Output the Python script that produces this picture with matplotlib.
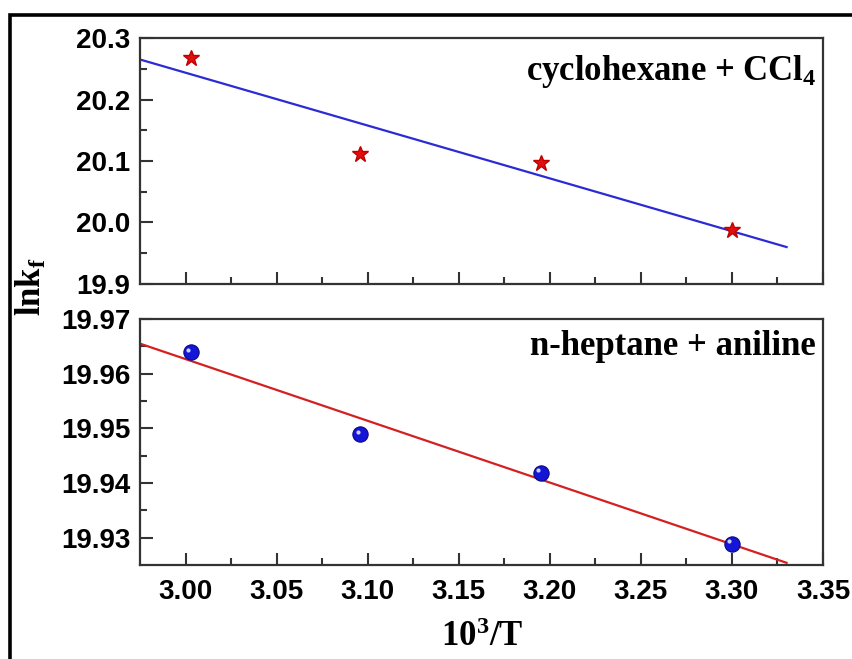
import numpy as np
import matplotlib
matplotlib.use("Agg")
import matplotlib.pyplot as plt
import matplotlib.transforms as mtransforms
from matplotlib.patches import Rectangle

# inverse temperature, 10^3/T
inv_T = [3.003, 3.096, 3.195, 3.300]

# ln k_f for the two systems
lnk_ccl4 = [20.268, 20.111, 20.097, 19.988]
lnk_aniline = [19.9639, 19.9489, 19.9419, 19.9289]

fit_range = [2.975, 3.330]

label_top = r"cyclohexane + CCl$_{4}$"
label_bot = "n-heptane + aniline"

plt.rcParams["mathtext.fontset"] = "custom"
plt.rcParams["mathtext.rm"] = "Liberation Serif:bold"
plt.rcParams["mathtext.bf"] = "Liberation Serif:bold"
plt.rcParams["mathtext.it"] = "Liberation Serif:bold:italic"

tick_font = {"family": "Liberation Sans", "weight": "bold", "size": 20}
text_font = {"family": "Liberation Serif", "weight": "bold", "size": 25}

fig = plt.figure(figsize=(8.52, 6.59), dpi=100)

# outer black frame (cropped on right and bottom)
fig.patches.append(Rectangle((10 / 852, -0.05), 1.0, 1 - 15 / 659 + 0.05,
                             transform=fig.transFigure, fill=False,
                             edgecolor="black", linewidth=2.6))

ax1 = fig.add_axes([140 / 852, 1 - 284 / 659, 683 / 852, 246 / 659])
ax2 = fig.add_axes([140 / 852, 1 - 565 / 659, 683 / 852, 246 / 659])

xfit = np.linspace(fit_range[0], fit_range[1], 50)

# top panel
p1 = np.polyfit(inv_T, lnk_ccl4, 1)
ax1.plot(xfit, np.polyval(p1, xfit), color="#2b2bd6", lw=1.6, zorder=2)
ax1.plot(inv_T, lnk_ccl4, linestyle="none", marker="*", markersize=12,
         color="#e01010", markeredgecolor="#c00000", zorder=3)
ax1.set_ylim(19.9, 20.3)
ax1.set_yticks([19.9, 20.0, 20.1, 20.2, 20.3])
ax1.set_yticklabels(["19.9", "20.0", "20.1", "20.2", "20.3"])
ax1.set_yticks(np.arange(19.95, 20.3, 0.1), minor=True)
ax1.text(0.99, 0.94, label_top, transform=ax1.transAxes, ha="right",
         va="top", fontdict=text_font)

# bottom panel
p2 = np.polyfit(inv_T, lnk_aniline, 1)
ax2.plot(xfit, np.polyval(p2, xfit), color="#d42020", lw=1.6, zorder=2)
ax2.plot(inv_T, lnk_aniline, linestyle="none", marker="o", markersize=11,
         color="#1515d8", markeredgecolor="#0a0a80", markeredgewidth=0.8,
         zorder=3)
hl = mtransforms.offset_copy(ax2.transData, fig=fig, x=-2.0, y=2.0, units="points")
ax2.plot(inv_T, lnk_aniline, linestyle="none", marker="o", markersize=3,
         color="#c8d0ff", markeredgewidth=0, transform=hl, zorder=4)
ax2.set_ylim(19.925, 19.97)
ax2.set_yticks([19.93, 19.94, 19.95, 19.96, 19.97])
ax2.set_yticklabels(["19.93", "19.94", "19.95", "19.96", "19.97"])
ax2.set_yticks(np.arange(19.935, 19.97, 0.01), minor=True)
ax2.text(0.99, 0.955, label_bot, transform=ax2.transAxes, ha="right",
         va="top", fontdict=text_font)

xt = [3.00, 3.05, 3.10, 3.15, 3.20, 3.25, 3.30, 3.35]
for ax in (ax1, ax2):
    ax.set_xlim(2.975, 3.35)
    ax.set_xticks(xt)
    ax.set_xticks(np.arange(3.025, 3.35, 0.05), minor=True)
    ax.tick_params(which="both", direction="in", top=False, right=False,
                   width=1.5, color="#333333")
    ax.tick_params(which="major", length=9)
    ax.tick_params(which="minor", length=5)
    for s in ax.spines.values():
        s.set_linewidth(1.6)
        s.set_color("#333333")
    for lab in ax.get_yticklabels():
        lab.set_fontproperties(tick_font)
        lab.set_fontsize(20)

ax1.set_xticklabels([])
ax2.set_xticklabels(["%.2f" % v for v in xt])
for lab in ax2.get_xticklabels():
    lab.set_fontproperties(tick_font)
    lab.set_fontsize(20)
ax2.tick_params(axis="x", pad=10)
ax1.tick_params(axis="y", pad=7)
ax2.tick_params(axis="y", pad=7)

fig.text(482 / 852, 1 - 638 / 659, r"10$^{3}$/T", ha="center", va="center",
         fontdict=text_font)
fig.text(32 / 852, 1 - 287 / 659, r"lnk$_{\mathrm{f}}$", rotation=90,
         ha="center", va="center", fontdict=text_font)

fig.savefig("out.png", dpi=100)
